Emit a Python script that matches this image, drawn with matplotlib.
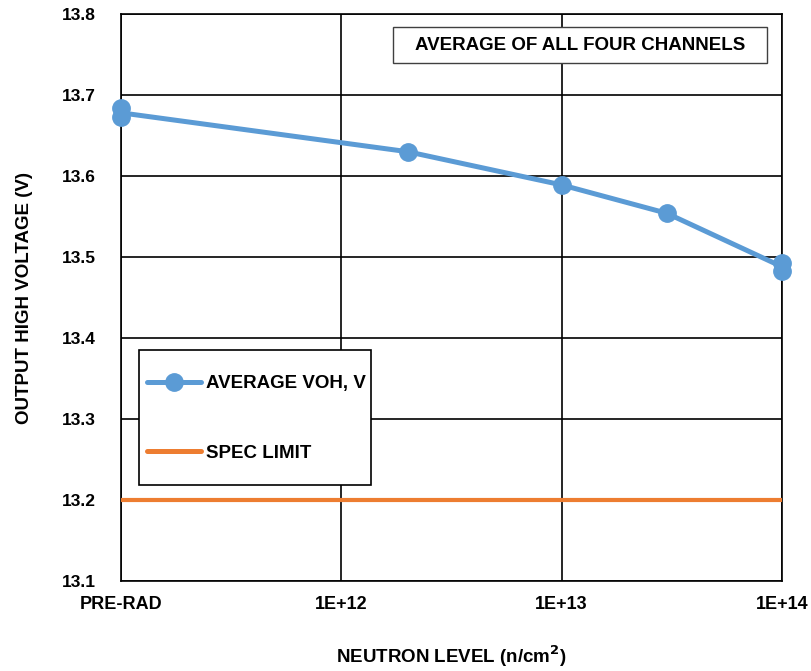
import matplotlib.pyplot as plt
from matplotlib.patches import Rectangle

plt.rcParams['font.family'] = ['Liberation Sans', 'DejaVu Sans']
plt.rcParams['font.weight'] = 'bold'

# neutron level (PRE-RAD drawn at 1E+11), measured VOH
neutron = [1e11, 1e11, 2e12, 1e13, 3e13, 1e14, 1e14]
voh = [13.684, 13.673, 13.630, 13.589, 13.554, 13.493, 13.483]
# line through the averaged endpoints
line_x = [1e11, 2e12, 1e13, 3e13, 1e14]
line_y = [13.678, 13.630, 13.589, 13.554, 13.488]
spec_limit = 13.2

x_ticks = [1e11, 1e12, 1e13, 1e14]
x_labels = ['PRE-RAD', '1E+12', '1E+13', '1E+14']
y_ticks = [13.1, 13.2, 13.3, 13.4, 13.5, 13.6, 13.7, 13.8]

blue = '#5B9BD5'
orange = '#ED7D31'

fig = plt.figure(figsize=(8.11, 6.71), dpi=100)
ax = fig.add_axes([121 / 811, 1 - 581 / 671, 661 / 811, 567 / 671])

ax.set_xscale('log')
ax.set_xlim(1e11, 1e14)
ax.set_ylim(13.1, 13.8)

ax.grid(True, color='black', linewidth=1.2)
ax.set_axisbelow(True)
for s in ax.spines.values():
    s.set_color('black')
    s.set_linewidth(1.2)

ax.plot(line_x, line_y, color=blue, linewidth=3.6, solid_capstyle='round', clip_on=False, zorder=3)
ax.plot(neutron, voh, linestyle='none', marker='o', markersize=12.5, color=blue, clip_on=False, zorder=4)
ax.axhline(spec_limit, color=orange, linewidth=3, zorder=3)

ax.set_xticks(x_ticks)
ax.set_xticklabels(x_labels)
ax.minorticks_off()
ax.set_yticks(y_ticks)
ax.set_yticklabels([f'{v:.1f}' for v in y_ticks])
ax.tick_params(axis='both', length=0)
ax.tick_params(axis='x', pad=11, labelsize=13)
ax.tick_params(axis='y', pad=18, labelsize=12.5)

ax.set_xlabel('NEUTRON LEVEL (n/cm$^\\mathbf{2}$)', fontsize=13.5, fontweight='bold', labelpad=22)
ax.set_ylabel('OUTPUT HIGH VOLTAGE (V)', fontsize=13.5, fontweight='bold', labelpad=21)

# title box
bx0 = (393 - 121) / 661
by0 = (581 - 63) / 567
bw = (767 - 393) / 661
bh = (63 - 27) / 567
ax.add_patch(Rectangle((bx0, by0), bw, bh, transform=ax.transAxes, facecolor='white',
                       edgecolor='#404040', linewidth=1, zorder=5))
ax.text(bx0 + bw / 2, by0 + bh / 2, 'AVERAGE OF ALL FOUR CHANNELS', transform=ax.transAxes,
        ha='center', va='center', fontsize=13.5, fontweight='bold', zorder=6)

# legend box
lx0 = (139 - 121) / 661
ly0 = (581 - 485) / 567
lw = (371 - 139) / 661
lh = (485 - 350) / 567
ax.add_patch(Rectangle((lx0, ly0), lw, lh, transform=ax.transAxes, facecolor='white',
                       edgecolor='black', linewidth=1.2, zorder=5))
h1, = ax.plot([], [], color=blue, linewidth=3.6, marker='o', markersize=12.5, solid_capstyle='round')
h2, = ax.plot([], [], color=orange, linewidth=3.6, solid_capstyle='round')
leg = ax.legend([h1, h2], ['AVERAGE VOH, V', 'SPEC LIMIT'], loc='center left',
                bbox_to_anchor=(lx0, ly0 + lh / 2 - 0.002), frameon=False, fontsize=13.5,
                handlelength=2.9, handletextpad=0.28, labelspacing=2.8, borderpad=0.4,
                borderaxespad=0)
leg.set_zorder(6)

fig.savefig('out.png', dpi=100)
